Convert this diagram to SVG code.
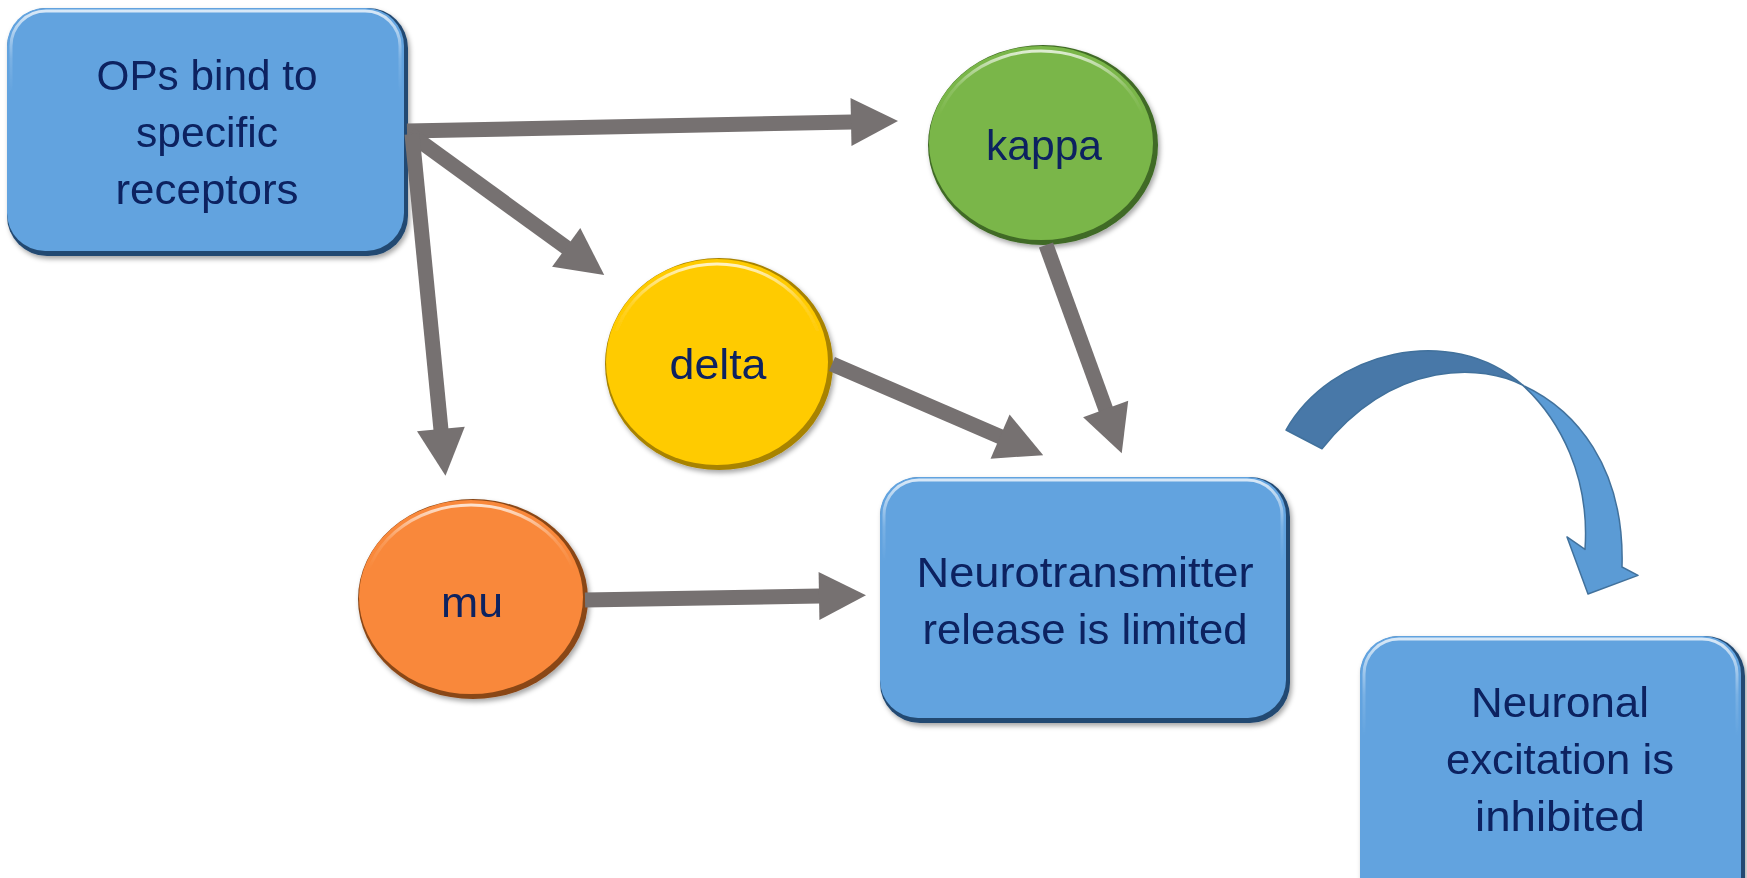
<svg xmlns="http://www.w3.org/2000/svg" width="1747" height="878" viewBox="0 0 1747 878">
<style>
.lbl{font-family:"Liberation Sans",Arial,sans-serif;font-size:42px;fill:#0a2260;text-anchor:middle}
.conn{stroke:#767171;stroke-width:15;fill:none;marker-end:url(#ah)}
.hl{fill:none;stroke:url(#hlg);stroke-width:3}
</style>
<defs>
<filter id="sh" x="-10%" y="-10%" width="125%" height="125%">
<feDropShadow dx="2" dy="3" stdDeviation="2.5" flood-color="#000" flood-opacity="0.35"/>
</filter>
<linearGradient id="hlg" x1="0" y1="0" x2="0" y2="1">
<stop offset="0" stop-color="#ffffff" stop-opacity="0.75"/>
<stop offset="0.2" stop-color="#ffffff" stop-opacity="0.15"/>
<stop offset="0.35" stop-color="#ffffff" stop-opacity="0"/>
</linearGradient>
<marker id="ah" markerUnits="userSpaceOnUse" markerWidth="47" markerHeight="48" refX="1" refY="24" orient="auto" overflow="visible">
<path d="M0,0 L47,24 L0,48 Z" fill="#767171"/>
</marker>
</defs>
<rect width="1747" height="878" fill="#ffffff"/>

<g id="ops" filter="url(#sh)">
<rect x="7" y="8" width="401" height="248" rx="40" fill="#234a72"/>
<rect x="7" y="8" width="397" height="243" rx="38" fill="#62a3df"/>
<rect x="11" y="11" width="389" height="236" rx="35" class="hl"/>
<text class="lbl" x="207" y="90" textLength="221" lengthAdjust="spacingAndGlyphs">OPs bind to</text>
<text class="lbl" x="207" y="147" textLength="142" lengthAdjust="spacingAndGlyphs">specific</text>
<text class="lbl" x="207" y="204" textLength="183" lengthAdjust="spacingAndGlyphs">receptors</text>
</g>

<g id="kappa" transform="translate(1043,145)" filter="url(#sh)">
<ellipse rx="115" ry="100" fill="#3f6a25"/>
<ellipse cx="-2" cy="-2" rx="112" ry="97" fill="#7ab648"/>
<ellipse cx="-2" cy="-2" rx="107" ry="92" class="hl"/>
<text class="lbl" x="1" y="15" textLength="116" lengthAdjust="spacingAndGlyphs">kappa</text>
</g>

<g id="delta" transform="translate(719,364)" filter="url(#sh)">
<ellipse rx="114" ry="106" fill="#a88300"/>
<ellipse cx="-2" cy="-2" rx="111" ry="103" fill="#ffcb05"/>
<ellipse cx="-2" cy="-2" rx="106" ry="98" class="hl"/>
<text class="lbl" x="-1" y="15" textLength="97" lengthAdjust="spacingAndGlyphs">delta</text>
</g>

<g id="mu" transform="translate(473,599)" filter="url(#sh)">
<ellipse rx="115" ry="100" fill="#8a4717"/>
<ellipse cx="-2" cy="-2" rx="112" ry="97" fill="#f9883a"/>
<ellipse cx="-2" cy="-2" rx="107" ry="92" class="hl"/>
<text class="lbl" x="-1" y="18" textLength="62" lengthAdjust="spacingAndGlyphs">mu</text>
</g>

<g id="neurotransmitter" filter="url(#sh)">
<rect x="880" y="477" width="410" height="246" rx="40" fill="#234a72"/>
<rect x="880" y="477" width="406" height="241" rx="38" fill="#62a3df"/>
<rect x="884" y="480" width="398" height="234" rx="35" class="hl"/>
<text class="lbl" x="1085" y="587" textLength="337" lengthAdjust="spacingAndGlyphs">Neurotransmitter</text>
<text class="lbl" x="1085" y="644" textLength="325" lengthAdjust="spacingAndGlyphs">release is limited</text>
</g>

<g id="neuronal" filter="url(#sh)">
<rect x="1360" y="636" width="385" height="290" rx="40" fill="#234a72"/>
<rect x="1360" y="636" width="381" height="285" rx="38" fill="#62a3df"/>
<rect x="1364" y="639" width="373" height="278" rx="35" class="hl"/>
<text class="lbl" x="1560" y="717" textLength="178" lengthAdjust="spacingAndGlyphs">Neuronal</text>
<text class="lbl" x="1560" y="774" textLength="228" lengthAdjust="spacingAndGlyphs">excitation is</text>
<text class="lbl" x="1560" y="831" textLength="170" lengthAdjust="spacingAndGlyphs">inhibited</text>
</g>

<g id="connectors">
<path class="conn" d="M407,131 L852,122"/>
<path class="conn" d="M410,134 L567,248"/>
<path class="conn" d="M412,134 L441,430"/>
<path class="conn" d="M832,364 L1001,437"/>
<path class="conn" d="M1046,245 L1106,410"/>
<path class="conn" d="M585,600 L820,596"/>
<g id="curved-arrow" transform="matrix(1,0,0,1.038,0,-11.1)" stroke="#41719c" stroke-width="1.5" stroke-linejoin="round">
<path d="M1523,382 C1575,405 1625,460 1622,557 L1638,565 L1588,583 L1567,528 L1585,540 C1590,470 1560,415 1523,382 Z" fill="#5b9bd5"/>
<path d="M1286,425 C1330,350 1450,320 1523,382 C1485,362 1395,355 1322,443 Z" fill="#4878a8"/>
</g>
</g>
</svg>
